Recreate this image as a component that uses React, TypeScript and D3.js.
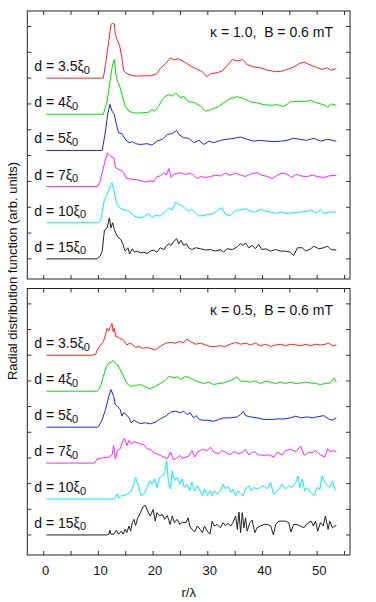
import React, { useEffect, useRef } from "react";
import * as d3 from "d3";

// r/lambda sample points paired with curve height above its own baseline (arb. units)
const k10_d35 = [[0.5,0],[10.9,0],[11.3,0.53],[11.9,1.43],[12.3,2.08],[12.6,2.12],[12.9,2.1],[13.1,1.69],[13.4,1.5],[13.9,1.24],[14.3,0.79],[14.6,0.3],[15.2,0.17],[16.2,0.1],[17.1,0.08],[18.3,0.09],[19.5,0.09],[20.7,0.17],[21.4,0.4],[22.3,0.56],[23.2,0.79],[23.8,0.7],[24.5,0.75],[25.3,0.68],[26.2,0.56],[27.1,0.44],[28.1,0.34],[29,0.25],[29.8,0.06],[30.5,0.17],[31.7,0.21],[32.6,0.27],[33.6,0.5],[34.5,0.72],[35.4,0.66],[36.3,0.72],[37.2,0.53],[38.4,0.43],[39.6,0.4],[40.9,0.31],[42.4,0.25],[43.6,0.27],[44.8,0.36],[45.7,0.43],[46.7,0.56],[47.6,0.62],[48.5,0.53],[49.7,0.43],[50.9,0.34],[51.9,0.4],[52.5,0.3],[53.5,0.37]];
const k10_d4 = [[0.5,0],[10.9,0],[11.6,0.5],[12.2,1.4],[12.6,1.93],[12.9,2.12],[13.2,1.54],[13.5,1.28],[13.9,1.09],[14.3,0.76],[14.9,0.31],[15.6,0.12],[16.5,0.05],[17.7,0.05],[19.2,0.08],[19.8,0.18],[20.3,0.12],[21,0.31],[21.7,0.57],[22.3,0.7],[22.9,0.76],[23.5,0.7],[24.1,0.83],[24.5,0.76],[25,0.63],[25.6,0.7],[26.2,0.53],[26.8,0.48],[27.7,0.44],[28.7,0.31],[29.6,0.12],[30.5,0.18],[31.7,0.27],[32.9,0.44],[34.1,0.61],[35.4,0.68],[36.6,0.61],[37.8,0.48],[39,0.44],[40.3,0.37],[41.5,0.35],[42.7,0.37],[43.9,0.3],[45.1,0.48],[46.3,0.5],[47.6,0.5],[48.8,0.53],[50,0.44],[51.2,0.37],[51.9,0.27],[52.6,0.4],[53.5,0.35]];
const k10_d5 = [[0.5,0],[10.7,0],[11.3,0.75],[11.7,1.4],[12.1,1.78],[12.5,1.52],[12.9,1.4],[13.3,1.0],[13.7,0.68],[14.3,0.65],[14.9,0.43],[15.6,0.3],[16.2,0.34],[16.8,0.26],[17.7,0.23],[18.9,0.26],[19.8,0.21],[20.7,0.36],[21.7,0.43],[22.6,0.62],[23.5,0.65],[24.3,0.78],[24.7,0.62],[25.6,0.49],[26.5,0.47],[27.4,0.3],[28.4,0.39],[29.3,0.23],[30.2,0.36],[31.1,0.3],[32.3,0.39],[33.5,0.43],[34.8,0.47],[36,0.52],[37.2,0.43],[38.4,0.36],[39.6,0.39],[40.9,0.36],[42.1,0.34],[43.3,0.36],[44.5,0.39],[45.7,0.47],[46.9,0.43],[48.1,0.39],[49.4,0.47],[50.6,0.36],[51.9,0.43],[53.5,0.36]];
const k10_d7 = [[0.5,0],[9.8,0],[10.3,0.18],[10.7,0.54],[11.3,1.06],[11.7,1.29],[12.2,1.19],[12.8,1.12],[13.1,0.74],[13.7,0.67],[14.3,0.61],[14.6,0.54],[15.2,0.31],[16.2,0.28],[17.1,0.26],[18,0.22],[18.6,0.18],[19.5,0.22],[20.1,0.19],[20.7,0.39],[21.3,0.41],[22,0.54],[22.4,0.44],[22.9,0.7],[23.3,0.35],[23.8,0.48],[24.4,0.5],[25,0.54],[25.6,0.48],[26.2,0.48],[26.8,0.52],[27.4,0.44],[28.1,0.31],[28.7,0.39],[29.6,0.35],[30.5,0.39],[31.4,0.44],[32.3,0.41],[33.2,0.52],[34.1,0.44],[35.1,0.52],[36,0.44],[36.9,0.39],[37.8,0.48],[39,0.54],[39.9,0.44],[40.9,0.39],[41.8,0.31],[42.7,0.44],[43.6,0.52],[44.5,0.48],[45.4,0.35],[46.1,0.48],[47,0.41],[48.2,0.39],[49.1,0.44],[50,0.39],[51.2,0.35],[52.1,0.41],[53.5,0.44]];
const k10_d10 = [[0.5,0],[10.1,0],[10.4,0.1],[10.7,0.39],[11.1,0.9],[11.5,1.03],[11.9,1.29],[12.3,1.49],[12.5,1.55],[12.8,1.29],[13.1,0.97],[13.4,0.71],[13.9,0.58],[14.3,0.52],[14.9,0.49],[15.6,0.45],[16.5,0.26],[17.4,0.19],[18.3,0.23],[19.2,0.36],[19.8,0.19],[20.4,0.28],[21.3,0.26],[22.3,0.45],[22.9,0.58],[23.5,0.49],[24.1,0.8],[24.7,0.71],[25.4,0.65],[26,0.52],[26.5,0.45],[27.1,0.52],[27.8,0.36],[28.4,0.26],[29.3,0.28],[30.2,0.32],[31.1,0.36],[32,0.52],[32.6,0.58],[33.2,0.32],[34.1,0.28],[35.1,0.49],[36,0.49],[36.9,0.54],[37.8,0.45],[38.7,0.41],[39.6,0.52],[40.6,0.45],[41.5,0.41],[42.4,0.36],[43.3,0.41],[44.5,0.36],[45.7,0.39],[46.9,0.41],[48.2,0.45],[49.1,0.49],[49.7,0.36],[50.6,0.52],[51.2,0.36],[52.1,0.41],[53.5,0.41]];
const k10_d15 = [[0.5,0],[9.8,0],[10.3,0.1],[10.7,0.3],[11.1,1.11],[11.6,1.2],[12,1.59],[12.3,1.2],[12.6,1.4],[12.9,1.14],[13.3,0.94],[13.7,0.81],[14.1,0.75],[14.5,0.56],[14.9,0.3],[15.4,0.43],[15.7,0.19],[16.2,0.39],[16.6,0.26],[17.1,0.3],[17.7,0.23],[18.3,0.26],[18.9,0.21],[19.5,0.3],[20.1,0.34],[20.7,0.26],[21.3,0.43],[22,0.36],[22.4,0.49],[22.9,0.59],[23.3,0.52],[23.8,0.68],[24.3,0.78],[24.7,0.59],[25.1,0.72],[25.6,0.52],[26.1,0.59],[26.5,0.43],[27.1,0.36],[27.8,0.43],[28.7,0.39],[29.6,0.34],[30.5,0.36],[31.4,0.3],[32.3,0.36],[32.9,0.26],[33.5,0.39],[34.5,0.36],[35.4,0.47],[36,0.59],[36.5,0.52],[36.9,0.62],[37.5,0.43],[38.1,0.52],[38.7,0.39],[39.3,0.56],[39.9,0.36],[40.6,0.39],[41.5,0.3],[42.4,0.36],[43.3,0.3],[44.2,0.3],[45.1,0.26],[45.7,0.13],[46.4,0.43],[47.3,0.43],[47.9,0.3],[48.8,0.39],[49.4,0.49],[50.3,0.39],[51.2,0.43],[51.9,0.49],[52.5,0.36],[53.5,0.34]];

const k05_d35 = [[0.5,0],[8.8,0],[9.5,0.04],[9.8,0.21],[10.4,0.4],[10.9,0.53],[11.3,0.79],[11.6,1.05],[11.9,0.94],[12.2,1.11],[12.5,1.24],[12.7,0.92],[12.9,1.05],[13.2,0.72],[13.5,0.72],[13.9,0.66],[14.6,0.59],[15.2,0.4],[15.7,0.47],[16.2,0.43],[16.8,0.3],[17.4,0.34],[18,0.27],[18.9,0.3],[19.5,0.27],[20.4,0.21],[21.3,0.34],[22.3,0.47],[23.2,0.5],[24.1,0.47],[24.7,0.53],[25.6,0.5],[26.2,0.63],[26.8,0.53],[27.8,0.43],[28.7,0.47],[29.6,0.4],[30.5,0.34],[31.4,0.34],[32.3,0.37],[33.2,0.34],[34.1,0.43],[35.1,0.5],[36,0.43],[36.9,0.47],[37.8,0.4],[38.7,0.47],[39.6,0.37],[40.6,0.43],[41.5,0.34],[42.4,0.4],[43.3,0.43],[44.2,0.37],[45.1,0.43],[46.1,0.4],[47,0.37],[47.9,0.43],[48.8,0.37],[49.7,0.43],[50.6,0.4],[51.5,0.43],[52.1,0.47],[52.8,0.37],[53.5,0.4]];
const k05_d4 = [[0.5,0],[9.8,0],[10.1,0.06],[10.5,0.26],[10.9,0.58],[11.5,0.97],[11.9,1.1],[12.3,1.12],[12.7,1.2],[13.1,1.1],[13.5,1.03],[14,0.84],[14.6,0.58],[15.2,0.3],[15.9,0.19],[16.8,0.22],[17.7,0.26],[18.6,0.17],[19.4,0.09],[20.4,0.19],[21.3,0.3],[22.1,0.39],[22.9,0.58],[23.8,0.52],[24.5,0.56],[25,0.45],[25.9,0.58],[26.7,0.52],[27.4,0.45],[28.4,0.35],[29.3,0.3],[30.2,0.35],[31.1,0.26],[32,0.3],[32.9,0.32],[33.8,0.39],[34.8,0.48],[35.3,0.56],[36,0.39],[36.9,0.39],[37.8,0.35],[38.7,0.39],[39.6,0.3],[40.6,0.39],[41.5,0.35],[42.4,0.3],[43.3,0.35],[44.2,0.3],[45.1,0.35],[46.1,0.3],[47,0.32],[47.9,0.35],[48.8,0.32],[49.7,0.3],[50.6,0.26],[51.5,0.3],[52.4,0.32],[53.1,0.52],[53.5,0.35]];
const k05_d5 = [[0.5,0],[9.8,0],[10.1,0.04],[10.7,0.3],[11.3,0.68],[11.9,1.2],[12.3,1.46],[12.8,1.2],[13.1,0.88],[13.5,0.81],[14,0.68],[14.3,0.43],[14.6,0.56],[15.1,0.49],[15.6,0.36],[16,0.17],[16.5,0.27],[17.1,0.19],[17.7,0.14],[18.6,0.17],[19.5,0.13],[20.4,0.19],[21.3,0.32],[22.3,0.43],[23.2,0.58],[24.1,0.62],[25,0.56],[25.6,0.62],[26.2,0.49],[26.8,0.56],[27.4,0.36],[27.9,0.45],[28.4,0.3],[29,0.27],[29.9,0.27],[31.1,0.23],[32,0.3],[32.9,0.36],[34.1,0.36],[35.4,0.4],[36,0.49],[36.5,0.62],[36.9,0.45],[37.8,0.4],[39,0.36],[40.3,0.3],[41.5,0.3],[42.7,0.32],[43.9,0.32],[45.1,0.36],[46.1,0.43],[47,0.36],[48.2,0.4],[49.1,0.36],[50,0.4],[51.2,0.45],[52.1,0.32],[52.7,0.27],[53.5,0.36]];
const k05_d7 = [[0.5,0],[9.3,0],[9.8,0.17],[11,0.21],[11.9,0.23],[12.5,0.32],[12.8,0.68],[13.1,0.17],[13.5,0.49],[14,0.56],[14.5,0.88],[14.8,0.97],[15.2,0.68],[15.6,0.88],[16,0.75],[16.5,0.84],[17.1,0.79],[17.7,0.75],[18.3,0.71],[18.9,0.56],[19.5,0.53],[20.1,0.4],[20.7,0.36],[21.3,0.3],[22,0.23],[22.6,0.17],[23.2,0.43],[23.7,0.14],[24.3,0.19],[24.9,0.3],[25.3,0.19],[26,0.23],[26.5,0.27],[27.1,0.49],[27.6,0.23],[28.2,0.45],[29,0.53],[29.9,0.49],[30.5,0.62],[31.1,0.43],[32,0.36],[32.6,0.49],[33.2,0.43],[34.1,0.32],[34.8,0.45],[35.7,0.36],[36.3,0.43],[36.9,0.53],[37.5,0.32],[38.4,0.45],[39.3,0.32],[40.3,0.3],[41.2,0.32],[42.1,0.23],[42.7,0.43],[43.6,0.32],[44.2,0.49],[45.1,0.53],[46.1,0.45],[47,0.66],[47.6,0.3],[48.5,0.43],[49.1,0.4],[49.7,0.49],[50.6,0.32],[51.4,0.23],[51.9,0.56],[52.4,0.45],[53.1,0.49],[53.5,0.43]];
const k05_d10 = [[0.5,0],[12.8,0],[13.1,0.06],[13.4,0.19],[13.7,0.03],[14.2,0.15],[14.6,0.13],[15.2,0.19],[15.9,0.26],[16.4,0.52],[16.8,0.84],[17.4,0.45],[17.8,0.13],[18.3,0.19],[18.9,0.45],[19.4,0.71],[19.8,0.58],[20.3,0.78],[20.7,0.45],[21.2,0.84],[21.7,0.9],[22.1,1.03],[22.5,1.49],[22.8,0.65],[23.2,0.39],[23.5,1.1],[23.9,0.71],[24.4,0.84],[24.9,0.58],[25.3,0.78],[25.7,0.45],[26.2,0.58],[26.7,0.32],[27.1,0.65],[27.6,0.32],[28.1,0.52],[28.6,0.32],[29,0.13],[29.4,0.39],[29.9,0.13],[30.4,0.32],[30.8,0.13],[31.2,0.32],[31.7,0.19],[32.3,0.32],[32.8,0.58],[33.2,0.39],[33.7,0.49],[34.2,0.26],[34.6,0.39],[35.1,0.13],[35.5,0.32],[36,0.19],[36.5,0.13],[36.9,0.39],[37.5,0.52],[37.9,0.32],[38.4,0.45],[39,0.39],[39.6,0.45],[40.3,0.52],[40.9,0.39],[41.5,0.65],[42,0.19],[42.4,0.26],[43,0.39],[43.6,0.58],[44.2,0.39],[44.8,0.52],[45.4,0.45],[46.1,0.65],[46.5,0.9],[46.8,0.45],[47.3,0.78],[47.7,0.32],[48.2,0.45],[48.8,0.26],[49.4,0.13],[50,0.45],[50.5,0.39],[50.9,0.9],[51.4,0.65],[51.9,0.52],[52.3,0.45],[52.8,0.71],[53.2,0.39],[53.5,0.32]];
const k05_d15 = [[0.5,0],[11.6,0],[11.9,0.02],[12.1,0.19],[12.3,0.03],[12.8,0.03],[13.3,0.19],[13.7,0.03],[14.2,0.15],[14.5,0.03],[14.9,0.22],[15.2,0.09],[15.6,0.35],[15.9,0.15],[16.2,0.48],[16.5,0.61],[16.8,0.37],[17.2,0.67],[17.7,0.87],[18.2,1.12],[18.6,1.15],[19,0.93],[19.5,0.74],[20,0.99],[20.4,0.54],[20.7,0.87],[21.2,0.74],[21.7,0.8],[22.1,0.61],[22.6,0.76],[23.1,0.41],[23.5,0.74],[23.9,0.48],[24.4,0.61],[24.9,0.41],[25.3,0.5],[26,0.48],[26.4,0.67],[26.7,0.35],[27.1,0.22],[27.6,0.12],[28.1,0.35],[28.6,0.22],[29,0.09],[29.4,0.35],[29.9,0.15],[30.4,0.03],[30.8,0.54],[31.2,0.35],[31.7,0.41],[32.3,0.28],[32.8,0.48],[33.2,0.37],[33.7,0.45],[34.2,0.35],[34.6,0.48],[35.1,0.74],[35.4,0.22],[35.7,0.89],[36,0.09],[36.3,0.87],[36.6,0.28],[36.9,0.67],[37.2,0.15],[37.7,0.48],[38.1,0.58],[38.6,0.09],[39,0.28],[39.6,0.35],[40.3,0.41],[40.9,0.41],[41.5,0.35],[42,0],[42.4,0.41],[43,0.54],[43.6,0.54],[44.2,0.54],[44.8,0.48],[45.2,0.12],[45.7,0.41],[46.3,0.41],[46.9,0.35],[47.6,0.28],[48,0.41],[48.5,0.48],[48.9,0.54],[49.3,0.35],[49.7,0.54],[50.1,0.15],[50.6,0.48],[51.1,0.35],[51.5,0.74],[52,0.22],[52.3,0.54],[52.8,0.28],[53.2,0.35],[53.5,0.37]];

const spacings = ["3.5", "4", "5", "7", "10", "15"];
const offsets = [7, 5.6, 4.2, 2.8, 1.4, 0];
const colors = ["#ff2020", "#00e000", "#2020ff", "#ff20ff", "#00f0f0", "#202020"];
const xTicks = [0, 5, 10, 15, 20, 25, 30, 35, 40, 45, 50, 55];
const xLabels = [0, 10, 20, 30, 40, 50];
const yTicks = [0, 1, 2, 3, 4, 5, 6, 7, 8, 9];

const panels = [
  { title: "\u03ba = 1.0,  B = 0.6 mT", curves: [k10_d35, k10_d4, k10_d5, k10_d7, k10_d10, k10_d15], top: 11, bottom: 279 },
  { title: "\u03ba = 0.5,  B = 0.6 mT", curves: [k05_d35, k05_d4, k05_d5, k05_d7, k05_d10, k05_d15], top: 288.5, bottom: 555 },
];

const FONT = "'Liberation Sans', Arial, Helvetica, sans-serif";

export default function App() {
  const ref = useRef<SVGSVGElement | null>(null);

  useEffect(() => {
    if (!ref.current) return;
    const svg = d3.select(ref.current);
    svg.selectAll("*").remove();

    const left = 27.3;
    const right = 350;
    const x = d3.scaleLinear().domain([-3, 56]).range([left, right]);

    panels.forEach((p, pi) => {
      const y = d3.scaleLinear().domain([-0.78, 9.6]).range([p.bottom, p.top]);
      const g = svg.append("g");

      // inward ticks on all four sides
      const tk = 4;
      xTicks.forEach((t) => {
        g.append("line").attr("x1", x(t)).attr("x2", x(t)).attr("y1", p.bottom).attr("y2", p.bottom - tk).attr("stroke", "#333");
        g.append("line").attr("x1", x(t)).attr("x2", x(t)).attr("y1", p.top).attr("y2", p.top + tk).attr("stroke", "#333");
      });
      yTicks.forEach((t) => {
        g.append("line").attr("x1", left).attr("x2", left + tk).attr("y1", y(t)).attr("y2", y(t)).attr("stroke", "#333");
        g.append("line").attr("x1", right).attr("x2", right - tk).attr("y1", y(t)).attr("y2", y(t)).attr("stroke", "#333");
      });

      const line = d3
        .line<number[]>()
        .x((d) => x(d[0]))
        .y((d) => y(d[1]));

      p.curves.forEach((c, i) => {
        const off = offsets[i];
        g.append("path")
          .datum(c.map((d) => [d[0], d[1] + off]))
          .attr("fill", "none")
          .attr("stroke", colors[i])
          .attr("stroke-width", 1)
          .attr("stroke-linejoin", "round")
          .attr("d", line);

        const lbl = g
          .append("text")
          .attr("x", 34.3)
          .attr("y", y(off) - 7)
          .attr("font-family", FONT)
          .attr("font-size", 14)
          .attr("fill", "#111");
        lbl.append("tspan").text(`d = ${spacings[i]}\u03be`);
        lbl.append("tspan").attr("dy", 2.5).attr("font-size", 11).text("0");
      });

      g.append("text")
        .attr("x", 333)
        .attr("y", p.top + 26)
        .attr("text-anchor", "end")
        .attr("font-family", FONT)
        .attr("font-size", 14)
        .attr("fill", "#111")
        .style("white-space", "pre")
        .text(p.title);

      g.append("rect")
        .attr("x", left)
        .attr("y", p.top)
        .attr("width", right - left)
        .attr("height", p.bottom - p.top)
        .attr("fill", "none")
        .attr("stroke", "#222")
        .attr("stroke-width", 1);

      if (pi === 1) {
        xLabels.forEach((t) => {
          g.append("text")
            .attr("x", x(t) + 2)
            .attr("y", 575)
            .attr("text-anchor", "middle")
            .attr("font-family", FONT)
            .attr("font-size", 13)
            .attr("fill", "#111")
            .text(t);
        });
      }
    });

    svg.append("text")
      .attr("x", 188.7)
      .attr("y", 597)
      .attr("text-anchor", "middle")
      .attr("font-family", FONT)
      .attr("font-size", 13)
      .attr("fill", "#111")
      .text("r/\u03bb");

    svg.append("text")
      .attr("transform", "translate(16.7,271) rotate(-90)")
      .attr("text-anchor", "middle")
      .attr("font-family", FONT)
      .attr("font-size", 13)
      .attr("fill", "#111")
      .text("Radial distribution function (arb. units)");
  }, []);

  return (
    <svg
      ref={ref}
      width={376}
      height={602}
      style={{ position: "absolute", left: 0, top: 0, background: "#fff" }}
    />
  );
}
